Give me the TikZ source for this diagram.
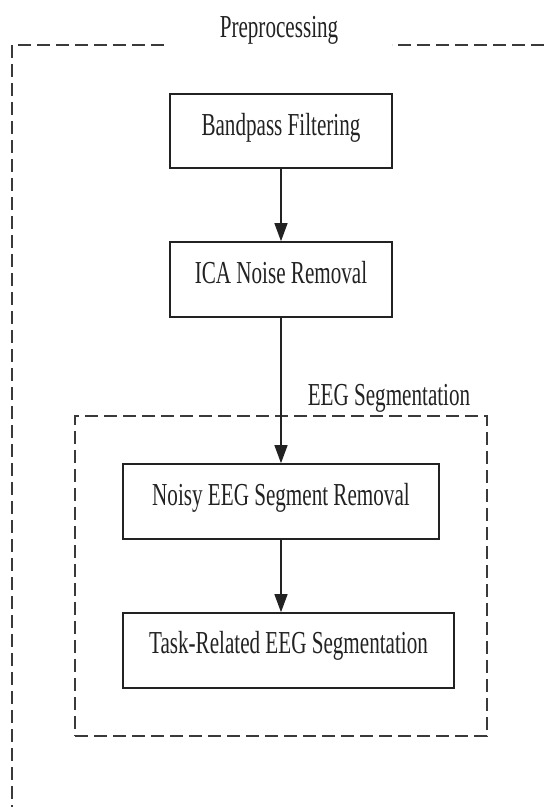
\documentclass[tikz,border=0pt]{standalone}
\usepackage{fontspec}
\setmainfont{Liberation Serif}[FakeStretch=0.66]
\usetikzlibrary{arrows.meta}
\definecolor{ink}{HTML}{222222}
\definecolor{dashink}{HTML}{3A3A3A}
\tikzset{
  stepbox/.style={draw=ink, line width=1.6pt, rectangle, inner sep=0pt, anchor=base,
    align=center, font=\fontsize{32}{38}\selectfont, text=ink},
  flow/.style={draw=ink, line width=1.2pt, -{Triangle[length=18pt,width=13pt]}},
  frame/.style={draw=dashink, line width=1.8pt, dash pattern=on 13pt off 6pt},
  lbl/.style={inner sep=0pt, anchor=base, font=\fontsize{32}{38}\selectfont, text=ink}
}
\begin{document}
\begin{tikzpicture}[x=1pt,y=-1pt]
\useasboundingbox (0,0) rectangle (547,807);
\begin{scope}
\clip (0,0) rectangle (547,807);
\draw[frame] (164,45) -- (12,45) -- (12,807.5) -- (570,807.5) -- (570,45) -- (392,45);
\end{scope}
\node[lbl] (pre) at (279,37) {Preprocessing};

\node[stepbox, minimum width=222pt, text height=41pt, text depth=33pt] (bp) at (281,135) {Bandpass Filtering};
\node[stepbox, minimum width=222pt, text height=41pt, text depth=34pt] (ica) at (281,283) {ICA Noise Removal};

\node[frame, rectangle, inner sep=0pt, minimum width=412pt, minimum height=320pt] (seg) at (281,576) {};
\node[lbl] (segl) at (389,405) {EEG Segmentation};

\node[stepbox, minimum width=316pt, text height=41pt, text depth=34pt] (noisy) at (281,505) {Noisy EEG Segment Removal};
\node[stepbox, minimum width=331pt, text height=40pt, text depth=35pt] (task) at (288.5,653) {Task-Related EEG Segmentation};

\draw[flow] (bp.south) -- (ica.north);
\draw[flow] (ica.south) -- (noisy.north);
\draw[flow] (noisy.south) -- (noisy.south |- task.north);
\end{tikzpicture}
\end{document}
